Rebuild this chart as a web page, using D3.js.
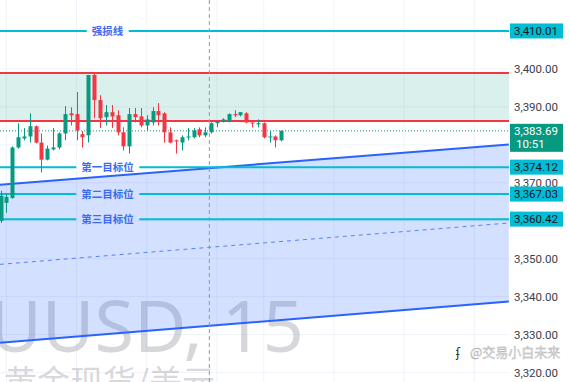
<!DOCTYPE html>
<html>
<head>
<meta charset="utf-8">
<script src="https://cdn.jsdelivr.net/npm/d3@7"></script>
<style>
  html, body { margin: 0; padding: 0; background: #fff; }
  svg { display: block; }
</style>
</head>
<body>
<svg id="chart" width="569" height="382"></svg>
<script>
// 15 min candles, XAUUSD
const opens = [3359.95, 3364.7, 3366.0, 3379.3, 3381.7, 3382.2, 3384.9, 3380.6, 3376.1, 3378.8,
  3379.3, 3383.0, 3388.3, 3388.1, 3382.8, 3382.5, 3398.4, 3391.8, 3387.3, 3388.6,
  3387.8, 3383.3, 3379.6, 3388.1, 3387.5, 3385.1, 3385.9, 3388.9, 3388.3, 3383.3,
  3381.2, 3380.6, 3382.0, 3382.0, 3384.1, 3382.5, 3383.3, 3385.7, 3386.2, 3386.2,
  3388.1, 3387.8, 3388.3, 3385.9, 3385.4, 3385.7, 3382.0, 3382.2, 3381.2]
const highs = [3367.9, 3367.1, 3379.6, 3385.7, 3384.4, 3388.3, 3385.1, 3383.0, 3379.8, 3384.4,
  3383.3, 3390.2, 3389.9, 3393.9, 3383.6, 3398.4, 3399.2, 3393.1, 3390.5, 3390.5,
  3389.1, 3384.6, 3389.7, 3389.7, 3389.7, 3387.8, 3389.9, 3391.0, 3388.6, 3384.6,
  3381.4, 3382.5, 3384.4, 3384.4, 3384.6, 3384.6, 3385.9, 3386.2, 3387.0, 3388.3,
  3389.1, 3388.6, 3388.6, 3385.9, 3386.7, 3385.9, 3383.6, 3382.5, 3383.8]
const lows = [3359.4, 3362.1, 3365.8, 3379.0, 3381.2, 3380.6, 3380.4, 3372.7, 3375.9, 3378.5,
  3378.8, 3381.2, 3385.1, 3381.2, 3379.3, 3380.6, 3387.0, 3384.4, 3385.1, 3384.4,
  3382.5, 3378.5, 3377.7, 3385.9, 3384.6, 3383.8, 3385.1, 3385.1, 3380.6, 3380.4,
  3377.7, 3378.5, 3381.2, 3381.7, 3382.0, 3382.0, 3383.0, 3384.6, 3385.9, 3385.9,
  3387.3, 3387.5, 3385.7, 3384.6, 3384.6, 3381.7, 3380.6, 3379.3, 3380.9]
const closes = [3366.6, 3366.3, 3379.3, 3382.0, 3382.2, 3384.9, 3380.6, 3376.1, 3379.0, 3379.3,
  3383.0, 3388.1, 3387.8, 3383.8, 3382.0, 3398.4, 3391.8, 3387.0, 3388.6, 3387.5,
  3383.3, 3379.6, 3388.1, 3387.3, 3385.1, 3386.7, 3388.9, 3387.8, 3383.3, 3380.6,
  3380.9, 3382.0, 3382.2, 3383.8, 3382.5, 3383.3, 3385.7, 3386.2, 3386.7, 3388.1,
  3387.8, 3388.6, 3385.9, 3385.7, 3385.7, 3382.0, 3382.2, 3381.2, 3383.69]

const levelValues = [3410.01, 3374.12, 3367.03, 3360.42]
const levelNames = ['强损线', '第一目标位', '第二目标位', '第三目标位']
const zoneBounds = [3386.3, 3398.9]
const channelAt = [-0.09, 86.9]
const channelUpper = [3369.5, 3380.1]
const channelMid = [3348.5, 3359.4]
const channelLower = [3327.85, 3338.7]
const yTicks = [3320, 3330, 3340, 3350, 3370, 3390, 3400]
const yGrid = [3320, 3330, 3340, 3350, 3360, 3370, 3380, 3390, 3400, 3410]
const xGridIdx = [1, 13, 25, 37, 45, 57, 69, 81]
const nowIdx = 35.7
const lastPrice = 3383.69
const countdown = '10:51'

const W = 569
const H = 382
const paneW = 509
const up = '#089981'
const down = '#f23645'
const fmt = d3.format(',.2f')

const svg = d3.select('#chart')
const x = d3.scaleLinear().domain([0, 48]).range([0.5, 281.3])
const y = d3.scaleLinear().domain([3320, 3410]).range([372.5, 31])

const pane = svg.append('g')

// grid
pane.selectAll('.hgrid').data(yGrid).enter().append('line')
  .attr('x1', 0).attr('x2', paneW)
  .attr('y1', d => y(d)).attr('y2', d => y(d))
  .attr('stroke', '#f0f3fa').attr('stroke-width', 1)
pane.selectAll('.vgrid').data(xGridIdx).enter().append('line')
  .attr('x1', d => x(d)).attr('x2', d => x(d))
  .attr('y1', 0).attr('y2', H)
  .attr('stroke', '#f0f3fa').attr('stroke-width', 1)

// watermark
pane.append('text')
  .attr('x', 304).attr('y', 352)
  .attr('text-anchor', 'end')
  .attr('font-family', 'Noto Sans, sans-serif')
  .attr('font-size', 72)
  .attr('fill', '#787b86').attr('fill-opacity', 0.3)
  .text('XAUUSD, 15')
pane.append('text')
  .attr('x', 4).attr('y', 394)
  .attr('font-family', 'Noto Sans CJK SC, sans-serif')
  .attr('font-size', 33)
  .attr('fill', '#787b86').attr('fill-opacity', 0.3)
  .text('黄金现货/美元')

// green zone between red lines
pane.append('rect')
  .attr('x', 0).attr('width', paneW)
  .attr('y', y(zoneBounds[1])).attr('height', y(zoneBounds[0]) - y(zoneBounds[1]))
  .attr('fill', '#089981').attr('fill-opacity', 0.15)

// channel fill
const area = d3.area()
  .x((d, i) => x(channelAt[i]))
  .y0((d, i) => y(channelLower[i]))
  .y1((d, i) => y(channelUpper[i]))
pane.append('path').datum(channelAt)
  .attr('d', area)
  .attr('fill', '#2962ff').attr('fill-opacity', 0.2)

const line = vals => d3.line().x((d, i) => x(channelAt[i])).y((d, i) => y(vals[i]))(channelAt)
pane.append('path').attr('d', line(channelUpper))
  .attr('stroke', '#2962ff').attr('stroke-width', 2).attr('fill', 'none')
pane.append('path').attr('d', line(channelLower))
  .attr('stroke', '#2962ff').attr('stroke-width', 2).attr('fill', 'none')
pane.append('path').attr('d', line(channelMid))
  .attr('stroke', '#2962ff').attr('stroke-opacity', 0.75).attr('stroke-width', 1)
  .attr('stroke-dasharray', '4,4').attr('fill', 'none')

// red lines
pane.selectAll('.zone-line').data(zoneBounds).enter().append('line')
  .attr('x1', 0).attr('x2', paneW)
  .attr('y1', d => y(d)).attr('y2', d => y(d))
  .attr('stroke', down).attr('stroke-width', 2)

// level lines with labels
const labelCx = 107.5
levelValues.forEach((v, i) => {
  const ly = y(v)
  const t = pane.append('text')
    .attr('x', labelCx).attr('y', ly + 4)
    .attr('text-anchor', 'middle')
    .attr('font-family', 'Noto Sans CJK SC, sans-serif')
    .attr('font-size', 10.5).attr('font-weight', 'bold')
    .attr('fill', '#3b6cf0')
    .text(levelNames[i])
  const bb = t.node().getBBox()
  pane.append('line')
    .attr('x1', 0).attr('x2', bb.x - 5)
    .attr('y1', ly).attr('y2', ly)
    .attr('stroke', '#00bcd4').attr('stroke-width', 2)
  pane.append('line')
    .attr('x1', bb.x + bb.width + 5).attr('x2', paneW)
    .attr('y1', ly).attr('y2', ly)
    .attr('stroke', '#00bcd4').attr('stroke-width', 2)
})

// last price dotted line
pane.append('line')
  .attr('x1', 0).attr('x2', paneW)
  .attr('y1', y(lastPrice)).attr('y2', y(lastPrice))
  .attr('stroke', up).attr('stroke-width', 1).attr('stroke-dasharray', '1,2')

// now marker
pane.append('line')
  .attr('x1', x(nowIdx)).attr('x2', x(nowIdx))
  .attr('y1', 0).attr('y2', H)
  .attr('stroke', '#9598a1').attr('stroke-width', 1).attr('stroke-dasharray', '4,3')

// candles
const candles = pane.selectAll('.candle').data(opens).enter().append('g')
candles.append('line')
  .attr('x1', (d, i) => Math.round(x(i)) + 0.5).attr('x2', (d, i) => Math.round(x(i)) + 0.5)
  .attr('y1', (d, i) => y(highs[i])).attr('y2', (d, i) => y(lows[i]))
  .attr('stroke', (d, i) => closes[i] >= opens[i] ? up : down).attr('stroke-width', 1)
candles.append('rect')
  .attr('x', (d, i) => Math.round(x(i)) - 1.5)
  .attr('width', 4)
  .attr('y', (d, i) => y(Math.max(opens[i], closes[i])))
  .attr('height', (d, i) => Math.max(1, Math.abs(y(opens[i]) - y(closes[i]))))
  .attr('fill', (d, i) => closes[i] >= opens[i] ? up : down)

// signature
svg.append('text')
  .attr('x', 470).attr('y', 357)
  .attr('font-family', 'Noto Sans CJK SC, sans-serif')
  .attr('font-size', 13)
  .attr('fill', '#e4e4e4').attr('stroke', '#b0b0b0').attr('stroke-width', 0.4)
  .text('@交易小白未来')
svg.append('text')
  .attr('x', 456).attr('y', 357)
  .attr('font-family', 'DejaVu Sans, sans-serif')
  .attr('font-size', 12)
  .attr('fill', '#333')
  .text('ʄ')

// price axis
const axis = svg.append('g')
axis.selectAll('.tick').data(yTicks).enter().append('text')
  .attr('x', 558).attr('y', d => y(d) + 4)
  .attr('text-anchor', 'end')
  .attr('font-family', 'Roboto, sans-serif')
  .attr('font-size', 11.5)
  .attr('fill', '#3b3e48')
  .text(d => fmt(d))

levelValues.forEach(v => {
  axis.append('rect')
    .attr('x', 510).attr('width', 53)
    .attr('y', y(v) - 7.5).attr('height', 15)
    .attr('fill', '#00bcd4')
  axis.append('text')
    .attr('x', 558).attr('y', y(v) + 4)
    .attr('text-anchor', 'end')
    .attr('font-family', 'Roboto, sans-serif')
    .attr('font-size', 11.5)
    .attr('fill', '#131722')
    .text(fmt(v))
})

axis.append('rect')
  .attr('x', 510).attr('width', 53)
  .attr('y', y(lastPrice) - 7).attr('height', 28)
  .attr('fill', up)
axis.append('text')
  .attr('x', 558).attr('y', y(lastPrice) + 4)
  .attr('text-anchor', 'end')
  .attr('font-family', 'Roboto, sans-serif')
  .attr('font-size', 11.5)
  .attr('fill', '#fff')
  .text(fmt(lastPrice))
axis.append('text')
  .attr('x', 516).attr('y', y(lastPrice) + 17)
  .attr('font-family', 'Roboto, sans-serif')
  .attr('font-size', 11.5)
  .attr('fill', '#fff')
  .text(countdown)
</script>
</body>
</html>
